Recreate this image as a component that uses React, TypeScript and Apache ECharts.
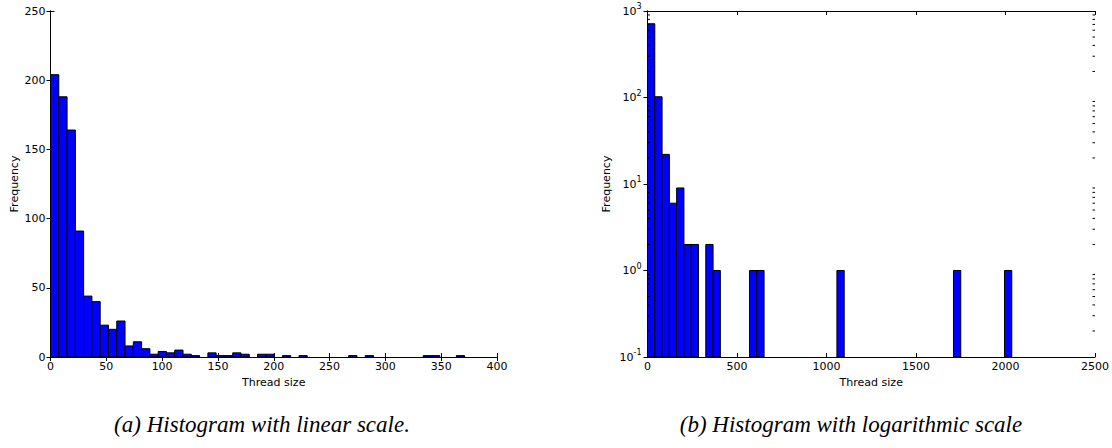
import React, { useEffect, useRef } from "react";
import * as echarts from "echarts";

// Histogram (a): linear scale, 50 bins
const LINEAR_BIN_WIDTH = 7.42;
const LINEAR_COUNTS = [
  204, 188, 164, 91, 44, 40, 23, 20, 26, 8,
  11, 6, 2, 4, 3, 5, 2, 1, 0, 3,
  1, 1, 3, 2, 0, 2, 2, 0, 1, 0,
  1, 0, 0, 0, 0, 0, 1, 0, 1, 0,
  0, 0, 0, 0, 0, 1, 1, 0, 0, 1,
];
// Histogram (b): logarithmic scale, 50 bins
const LOG_BIN_WIDTH = 40.7;
const LOG_COUNTS = [
  712, 102, 22, 6, 9, 2, 2, 0, 2, 1,
  0, 0, 0, 0, 1, 1, 0, 0, 0, 0,
  0, 0, 0, 0, 0, 0, 1, 0, 0, 0,
  0, 0, 0, 0, 0, 0, 0, 0, 0, 0,
  0, 0, 1, 0, 0, 0, 0, 0, 0, 1,
];
const LOG_MINOR_TICKS = [
  0.2, 0.3, 0.4, 0.5, 0.6, 0.7, 0.8, 0.9,
  2, 3, 4, 5, 6, 7, 8, 9,
  20, 30, 40, 50, 60, 70, 80, 90,
  200, 300, 400, 500, 600, 700, 800, 900,
];
const CAPTION_A = "(a) Histogram with linear scale.";
const CAPTION_B = "(b) Histogram with logarithmic scale";

const FONT = "DejaVu Sans";

function binData(counts: number[], width: number) {
  const out: number[][] = [];
  counts.forEach((c, i) => {
    if (c > 0) out.push([i * width, (i + 1) * width, c]);
  });
  return out;
}

export default function App() {
  const ref = useRef<HTMLDivElement>(null);
  useEffect(() => {
    if (!ref.current) return;
    const chart = echarts.init(ref.current, undefined, { renderer: "svg" });

    const barRender = (bottom: number) => (params: any, api: any) => {
      const x0 = api.value(0);
      const x1 = api.value(1);
      const c = api.value(2);
      const p0 = api.coord([x0, c]);
      const p1 = api.coord([x1, bottom]);
      return {
        type: "rect",
        shape: { x: p0[0], y: p0[1], width: p1[0] - p0[0], height: p1[1] - p0[1] },
        style: { fill: "#0000ff", stroke: "#000000", lineWidth: 1 },
      };
    };

    const minorRender = (params: any, api: any) => {
      const v = api.value(0);
      const a = api.coord([0, v]);
      const b = api.coord([2500, v]);
      return {
        type: "group",
        z2: 10,
        children: [
          { type: "line", shape: { x1: a[0], y1: a[1], x2: a[0] + 2.5, y2: a[1] }, style: { stroke: "#000", lineWidth: 1 } },
          { type: "line", shape: { x1: b[0], y1: b[1], x2: b[0] - 2.5, y2: b[1] }, style: { stroke: "#000", lineWidth: 1 } },
        ],
      };
    };

    const tickLabel = { color: "#000", fontFamily: FONT, fontSize: 11 };
    const tick = { show: true, inside: true, length: 4, lineStyle: { color: "#000", width: 1 } };
    const axisLine = { show: true, lineStyle: { color: "#000", width: 1 } };
    const nameStyle = { color: "#000", fontFamily: FONT, fontSize: 11 };
    const plain = (v: number) => String(v);

    const option: any = {
      animation: false,
      grid: [
        { left: 50.5, top: 11, width: 446.5, height: 346, show: false },
        { left: 647.5, top: 11, width: 447.5, height: 346, show: false },
      ],
      xAxis: [
        {
          gridIndex: 0, type: "value", min: 0, max: 400, interval: 50, position: "bottom",
          name: "Thread size", nameLocation: "middle", nameGap: 19, nameTextStyle: nameStyle,
          axisLine, axisTick: tick, splitLine: { show: false },
          axisLabel: { ...tickLabel, margin: 4, formatter: plain },
        },
        {
          gridIndex: 0, type: "value", min: 0, max: 400, interval: 50, position: "top",
          axisLine, axisTick: tick, splitLine: { show: false }, axisLabel: { show: false },
        },
        {
          gridIndex: 1, type: "value", min: 0, max: 2500, interval: 500, position: "bottom",
          name: "Thread size", nameLocation: "middle", nameGap: 19, nameTextStyle: nameStyle,
          axisLine, axisTick: tick, splitLine: { show: false },
          axisLabel: { ...tickLabel, margin: 4, formatter: plain },
        },
        {
          gridIndex: 1, type: "value", min: 0, max: 2500, interval: 500, position: "top",
          axisLine, axisTick: tick, splitLine: { show: false }, axisLabel: { show: false },
        },
      ],
      yAxis: [
        {
          gridIndex: 0, type: "value", min: 0, max: 250, interval: 50, position: "left",
          name: "Frequency", nameLocation: "middle", nameGap: 31, nameRotate: 90, nameTextStyle: nameStyle,
          axisLine, axisTick: tick, splitLine: { show: false },
          axisLabel: { ...tickLabel, margin: 5, formatter: plain },
        },
        {
          gridIndex: 0, type: "value", min: 0, max: 250, interval: 50, position: "right",
          axisLine, axisTick: tick, splitLine: { show: false }, axisLabel: { show: false },
        },
        {
          gridIndex: 1, type: "log", logBase: 10, min: 0.1, max: 1000, position: "left",
          name: "Frequency", nameLocation: "middle", nameGap: 36, nameRotate: 90, nameTextStyle: nameStyle,
          axisLine, axisTick: tick, splitLine: { show: false },
          axisLabel: {
            ...tickLabel, margin: 6,
            formatter: (v: number) => `{b|10}{s|${Math.round(Math.log10(v))}}`,
            rich: {
              b: { fontFamily: FONT, fontSize: 11, color: "#000" },
              s: { fontFamily: FONT, fontSize: 8, color: "#000", verticalAlign: "bottom", padding: [0, 0, 9, 0] },
            },
          },
        },
        {
          gridIndex: 1, type: "log", logBase: 10, min: 0.1, max: 1000, position: "right",
          axisLine, axisTick: tick, splitLine: { show: false }, axisLabel: { show: false },
        },
      ],
      series: [
        {
          type: "custom", xAxisIndex: 0, yAxisIndex: 0,
          renderItem: barRender(0), encode: { x: [0, 1], y: 2 },
          data: binData(LINEAR_COUNTS, LINEAR_BIN_WIDTH),
        },
        {
          type: "custom", xAxisIndex: 2, yAxisIndex: 2,
          renderItem: barRender(0.1), encode: { x: [0, 1], y: 2 },
          data: binData(LOG_COUNTS, LOG_BIN_WIDTH),
        },
        {
          type: "custom", xAxisIndex: 2, yAxisIndex: 2, z: 5,
          renderItem: minorRender, encode: { y: 0 },
          data: LOG_MINOR_TICKS.map((v) => [v]),
          silent: true,
        },
      ],
      graphic: [
        {
          type: "text", x: 262, y: 424,
          style: {
            text: CAPTION_A, fill: "#000", font: 'italic 23px "Liberation Serif"',
            textAlign: "center", textVerticalAlign: "middle",
          },
        },
        {
          type: "text", x: 851, y: 424,
          style: {
            text: CAPTION_B, fill: "#000", font: 'italic 23px "Liberation Serif"',
            textAlign: "center", textVerticalAlign: "middle",
          },
        },
      ],
    };
    chart.setOption(option);
    return () => chart.dispose();
  }, []);
  return (
    <div
      ref={ref}
      style={{ position: "fixed", left: 0, top: 0, width: 1112, height: 448, background: "#fff" }}
    />
  );
}
